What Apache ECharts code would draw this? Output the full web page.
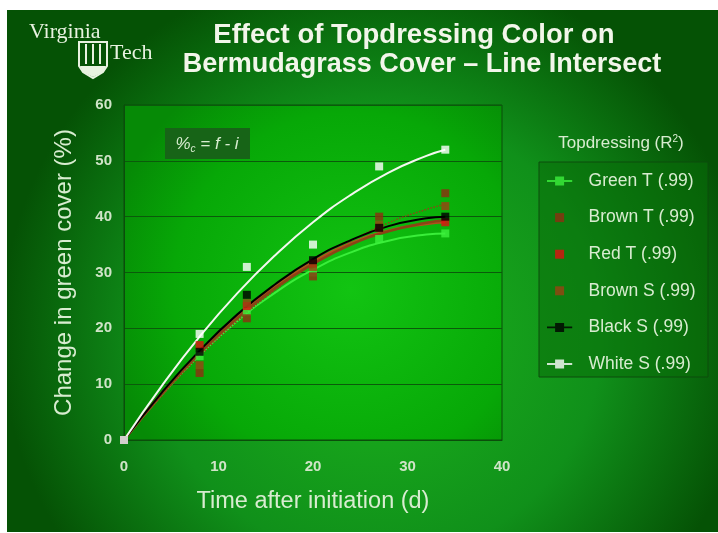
<!DOCTYPE html>
<html>
<head>
<meta charset="utf-8">
<script src="https://cdn.jsdelivr.net/npm/echarts@6/dist/echarts.min.js"></script>
<style>
html,body{margin:0;padding:0;background:#ffffff;}
#chart{width:718px;height:533px;}
</style>
</head>
<body>
<div id="chart"></div>
<script>
// Observation days
const days = [0, 8, 13, 20, 27, 34];
// Observed change in green cover (%)
const greenT = [0, 15, 23, 30, 36, 37];
const brownT = [0, 12, 21.8, 29.3, 40, 44.2];
const redT   = [0, 17, 24, 31.6, 38, 39];
const brownS = [0, 13.4, 24.5, 31, 38.5, 41.9];
const blackS = [0, 15.8, 26, 32.2, 38, 40];
const whiteS = [0, 19, 31, 35, 49, 52];

// Fitted trend lines
const fitDays   = [0, 4, 8, 12, 16, 20, 24, 28, 32, 34];
const greenTFit = [0, 8.1, 15.2, 21.3, 26.4, 30.5, 33.6, 35.7, 36.8, 37.0];
const brownTFit = [0, 7.9, 15.0, 21.3, 26.9, 31.6, 35.6, 38.9, 41.3, 42.2];
const redTFit   = [0, 8.4, 15.8, 22.2, 27.5, 31.9, 35.2, 37.5, 38.7, 39.0];
const brownSFit = [0, 8.2, 15.5, 21.8, 27.2, 31.5, 35.0, 37.4, 38.9, 39.3];
const blackSFit = [0, 8.5, 16.0, 22.5, 27.9, 32.4, 35.8, 38.3, 39.7, 40.0];
const whiteSFit = [0, 9.7, 18.5, 26.3, 33.1, 39.0, 43.9, 47.9, 50.9, 52.0];

const seriesNames = ['Green T (.99)', 'Brown T (.99)', 'Red T (.99)', 'Brown S (.99)', 'Black S (.99)', 'White S (.99)'];
const xTicks = [0, 10, 20, 30, 40];
const yTicks = [0, 10, 20, 30, 40, 50, 60];

function pairs(xs, ys) { return xs.map((x, i) => [x, ys[i]]); }

const chart = echarts.init(document.getElementById('chart'));
const txt = '#d8ecd0';
const SQ = 'path://M0,0L10,0L10,10L0,10Z';
const ARM = 'path://M0,4L9,4L9,0L19,0L19,4L28,4L28,6L19,6L19,10L9,10L9,6L0,6Z';

function fitLine(name, ys, color, width, type) {
  return {
    type: 'line', name: name + ' fit', data: pairs(fitDays, ys), smooth: true,
    showSymbol: false, symbol: 'none', z: 2, silent: true,
    lineStyle: { color: color, width: width, type: type || 'solid' }
  };
}
function points(name, ys, color, size) {
  return {
    type: 'scatter', name: name, data: pairs(days, ys), symbol: 'rect',
    symbolSize: size || 7, z: 3, itemStyle: { color: color }
  };
}
const logoC = '#e8f2e0';
const titleFont = 'bold 27.5px "Liberation Sans", Arial, sans-serif';

const option = {
  animation: false,
  graphic: [
    { type: 'rect', z: -10, shape: { x: 7, y: 10, width: 711, height: 522 },
      style: { fill: new echarts.graphic.RadialGradient(0.52, 0.62, 0.72, [
        { offset: 0, color: '#1cb41c' }, { offset: 0.6, color: '#10901a' }, { offset: 1, color: '#055205' }]) } },
    // Virginia Tech logo
    { type: 'text', z: 5, style: { x: 29, y: 32, text: 'Virginia', fill: logoC, font: '22px "Liberation Serif", serif', textVerticalAlign: 'middle' } },
    { type: 'text', z: 5, style: { x: 110, y: 53, text: 'Tech', fill: logoC, font: '22px "Liberation Serif", serif', textVerticalAlign: 'middle' } },
    { type: 'polygon', z: 5, shape: { points: [[79,42],[107,42],[107,66],[103,72],[93,78],[83,72],[79,66]] },
      style: { fill: 'none', stroke: logoC, lineWidth: 2 } },
    { type: 'line', z: 5, shape: { x1: 86, y1: 44, x2: 86, y2: 64 }, style: { stroke: logoC, lineWidth: 2 } },
    { type: 'line', z: 5, shape: { x1: 93, y1: 44, x2: 93, y2: 64 }, style: { stroke: logoC, lineWidth: 2 } },
    { type: 'line', z: 5, shape: { x1: 100, y1: 44, x2: 100, y2: 64 }, style: { stroke: logoC, lineWidth: 2 } },
    { type: 'polygon', z: 5, shape: { points: [[80,66],[106,66],[103,72],[93,77],[83,72]] }, style: { fill: logoC } },
    // Title
    { type: 'text', z: 5, style: { x: 414, y: 35, text: 'Effect of Topdressing Color on', fill: '#f2f6ea',
      font: titleFont, textAlign: 'center', textVerticalAlign: 'middle' } },
    { type: 'text', z: 5, style: { x: 422, y: 65, text: 'Bermudagrass Cover \u2013 Line Intersect', fill: '#f2f6ea',
      font: 'bold 27px "Liberation Sans", Arial, sans-serif', textAlign: 'center', textVerticalAlign: 'middle' } },
    // formula box
    { type: 'rect', z: 5, shape: { x: 165, y: 128, width: 85, height: 31 }, style: { fill: '#176417' } },
    { type: 'text', z: 6, style: { x: 207, y: 144, text: '{a|%}{s|c}{a| = f - i}', textAlign: 'center', textVerticalAlign: 'middle',
      rich: { a: { fill: '#d8ecd0', font: 'italic 17px "Liberation Sans", Arial, sans-serif' },
              s: { fill: '#d8ecd0', font: 'italic 10px "Liberation Sans", Arial, sans-serif', padding: [10, 0, 0, 0] } } } },
    // legend box and title
    { type: 'rect', z: 1, shape: { x: 539, y: 162, width: 169, height: 215 },
      style: { fill: 'rgba(10,110,10,0.55)', stroke: '#0c4c0c', lineWidth: 1 } },
    { type: 'text', z: 5, style: { x: 621, y: 143, text: '{a|Topdressing (R}{s|2}{a|)}', textAlign: 'center', textVerticalAlign: 'middle',
      rich: { a: { fill: txt, font: '17px "Liberation Sans", Arial, sans-serif' },
              s: { fill: txt, font: '10px "Liberation Sans", Arial, sans-serif', padding: [0, 0, 8, 0] } } } }
  ],
  grid: {
    left: 124, right: 216, top: 105, bottom: 93, show: true, borderColor: '#0b4d0b', borderWidth: 1,
    backgroundColor: new echarts.graphic.RadialGradient(0.6, 0.55, 0.75, [
      { offset: 0, color: '#12c412' }, { offset: 0.7, color: '#07a807' }, { offset: 1, color: '#068a06' }])
  },
  legend: {
    orient: 'vertical', left: 547, top: 172, itemWidth: 48, itemHeight: 9, itemGap: 18.6, padding: 0,
    textStyle: { color: txt, fontSize: 17.5, fontFamily: '"Liberation Sans", Arial, sans-serif' },
    data: [
      { name: seriesNames[0], icon: ARM },
      { name: seriesNames[1], icon: SQ },
      { name: seriesNames[2], icon: SQ },
      { name: seriesNames[3], icon: SQ },
      { name: seriesNames[4], icon: ARM },
      { name: seriesNames[5], icon: ARM }
    ]
  },
  xAxis: {
    type: 'value', min: xTicks[0], max: xTicks[xTicks.length - 1], interval: 10,
    name: 'Time after initiation (d)', nameLocation: 'middle', nameGap: 50,
    nameTextStyle: { color: txt, fontSize: 23.5, fontFamily: '"Liberation Sans", Arial, sans-serif' },
    axisLine: { show: true, lineStyle: { color: '#0b4d0b', width: 1 } },
    axisTick: { show: false },
    splitLine: { show: false },
    axisLabel: { color: '#d0e4c8', fontSize: 15, fontWeight: 'bold', margin: 19, fontFamily: '"Liberation Sans Narrow", "Liberation Sans", Arial, sans-serif' }
  },
  yAxis: {
    type: 'value', min: yTicks[0], max: yTicks[yTicks.length - 1], interval: 10,
    name: 'Change in green cover (%)', nameLocation: 'middle', nameGap: 48,
    nameTextStyle: { color: txt, fontSize: 24, fontFamily: '"Liberation Sans", Arial, sans-serif' },
    axisLine: { show: true, lineStyle: { color: '#0b4d0b', width: 1 } },
    axisTick: { show: false },
    splitLine: { show: true, lineStyle: { color: '#0b5a0b', width: 1 } },
    axisLabel: { color: '#d0e4c8', fontSize: 15, fontWeight: 'bold', margin: 12, fontFamily: '"Liberation Sans Narrow", "Liberation Sans", Arial, sans-serif' }
  },
  series: [
    fitLine(seriesNames[0], greenTFit, '#3aee3a', 2),
    fitLine(seriesNames[1], brownTFit, '#8a4a14', 1.5, 'dotted'),
    fitLine(seriesNames[2], redTFit, '#b0501c', 2.5),
    fitLine(seriesNames[3], brownSFit, '#8a4416', 2.5),
    fitLine(seriesNames[4], blackSFit, '#000000', 2),
    fitLine(seriesNames[5], whiteSFit, '#f4f8f0', 2),
    points(seriesNames[0], greenT, '#3cf03c', 8),
    points(seriesNames[1], brownT, '#8e2e10', 8),
    points(seriesNames[2], redT, '#e01010', 8),
    points(seriesNames[3], brownS, '#9a4412', 8),
    points(seriesNames[4], blackS, '#000000', 8),
    points(seriesNames[5], whiteS, '#ffffff', 8)
  ]
};
chart.setOption(option);
</script>
</body>
</html>
